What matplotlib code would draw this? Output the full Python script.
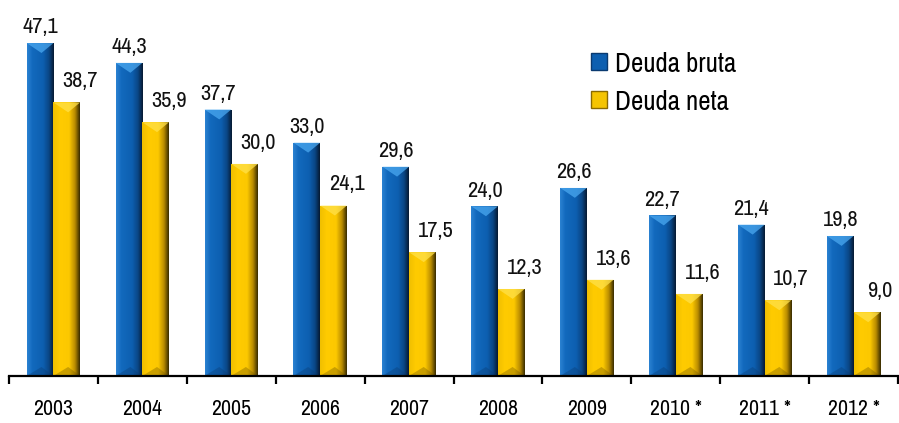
import numpy as np
import matplotlib.pyplot as plt
from matplotlib.patches import Polygon, Patch
from matplotlib.colors import to_rgb

plt.rcParams['font.family'] = ['Pragati Narrow', 'Archivo Narrow', 'DejaVu Sans']

years = ['2003', '2004', '2005', '2006', '2007', '2008', '2009', '2010 *', '2011 *', '2012 *']
deuda_bruta = [47.1, 44.3, 37.7, 33.0, 29.6, 24.0, 26.6, 22.7, 21.4, 19.8]
deuda_neta = [38.7, 35.9, 30.0, 24.1, 17.5, 12.3, 13.6, 11.6, 10.7, 9.0]

blue_stops = [(0.0, '#2b82d2'), (0.2, '#1269bd'), (0.6, '#0d5fb0'),
              (0.82, '#0a4685'), (1.0, '#061a33')]
gold_stops = [(0.0, '#f0bf00'), (0.25, '#ffcb00'), (0.6, '#fcc800'),
              (0.82, '#b98c00'), (1.0, '#3a2d00')]


def gradient(stops, n=64):
    pos = [s[0] for s in stops]
    cols = np.array([to_rgb(s[1]) for s in stops])
    t = np.linspace(0, 1, n)
    row = np.stack([np.interp(t, pos, cols[:, k]) for k in range(3)], axis=1)
    return row[np.newaxis, :, :]


def shade(bars, stops, top_col, bot_col, bevel):
    img = gradient(stops)
    for b in bars:
        x, w, h = b.get_x(), b.get_width(), b.get_height()
        im = ax.imshow(img, extent=(x, x + w, 0, h), aspect='auto',
                       interpolation='bilinear', zorder=2)
        im.set_clip_path(b)
        ax.add_patch(Polygon([(x, h), (x + w, h), (x + w * 0.55, h - bevel)],
                             closed=True, color=top_col, alpha=0.75, lw=0, zorder=3))
        ax.add_patch(Polygon([(x, 0), (x + w, 0), (x + w * 0.55, bevel * 0.9)],
                             closed=True, color=bot_col, alpha=0.35, lw=0, zorder=3))
        b.set_alpha(0)


fig = plt.figure(figsize=(8.99, 4.23), dpi=100)
ax = fig.add_axes([9 / 899, 45 / 423, 889 / 899, 378 / 423])

x = np.arange(len(years))
w = 0.3
b1 = ax.bar(x - w / 2, deuda_bruta, w, color='#0d5fb0', zorder=1)
b2 = ax.bar(x + w / 2, deuda_neta, w, color='#fcc800', zorder=1)
shade(b1, blue_stops, '#4aa8f0', '#0a3a70', 1.4)
shade(b2, gold_stops, '#ffe14a', '#6b5200', 1.4)

# etiquetas: las de deuda neta van algo desplazadas a la derecha y más altas
for bars, vals, dx, dy in ((b1, deuda_bruta, 0, 7), (b2, deuda_neta, 9.5, 11)):
    for b, v in zip(bars, vals):
        ax.annotate(f'{v:.1f}'.replace('.', ','),
                    (b.get_x() + b.get_width() / 2, v),
                    xytext=(dx, dy), textcoords='offset points',
                    ha='center', va='baseline', fontsize=17.5, color='#111111')

ax.set_xlim(-0.5, len(years) - 0.5)
ax.set_ylim(-0.3, 53.2)

for s in ('top', 'right', 'left'):
    ax.spines[s].set_visible(False)
ax.spines['bottom'].set_position(('data', 0))
ax.spines['bottom'].set_linewidth(1.6)
ax.spines['bottom'].set_zorder(4)
ax.set_yticks([])
ax.set_xticks(x)
ax.set_xticklabels(years, fontsize=17)
ax.tick_params(axis='x', which='major', length=0, pad=17)
ax.set_xticks(np.arange(-0.5, len(years)), minor=True)
ax.tick_params(axis='x', which='minor', length=6, width=1.6, direction='out')

handles = [Patch(facecolor='#0d5fb0', edgecolor='#0a3a70', label='Deuda bruta'),
           Patch(facecolor='#f5c400', edgecolor='#8a6a00', label='Deuda neta')]
ax.legend(handles=handles, loc='upper left', bbox_to_anchor=(0.628, 0.925),
          frameon=False, fontsize=21, handlelength=0.55, handleheight=0.55,
          handletextpad=0.3, labelspacing=0.45, borderpad=0.3)

fig.savefig('out.png', dpi=100)
